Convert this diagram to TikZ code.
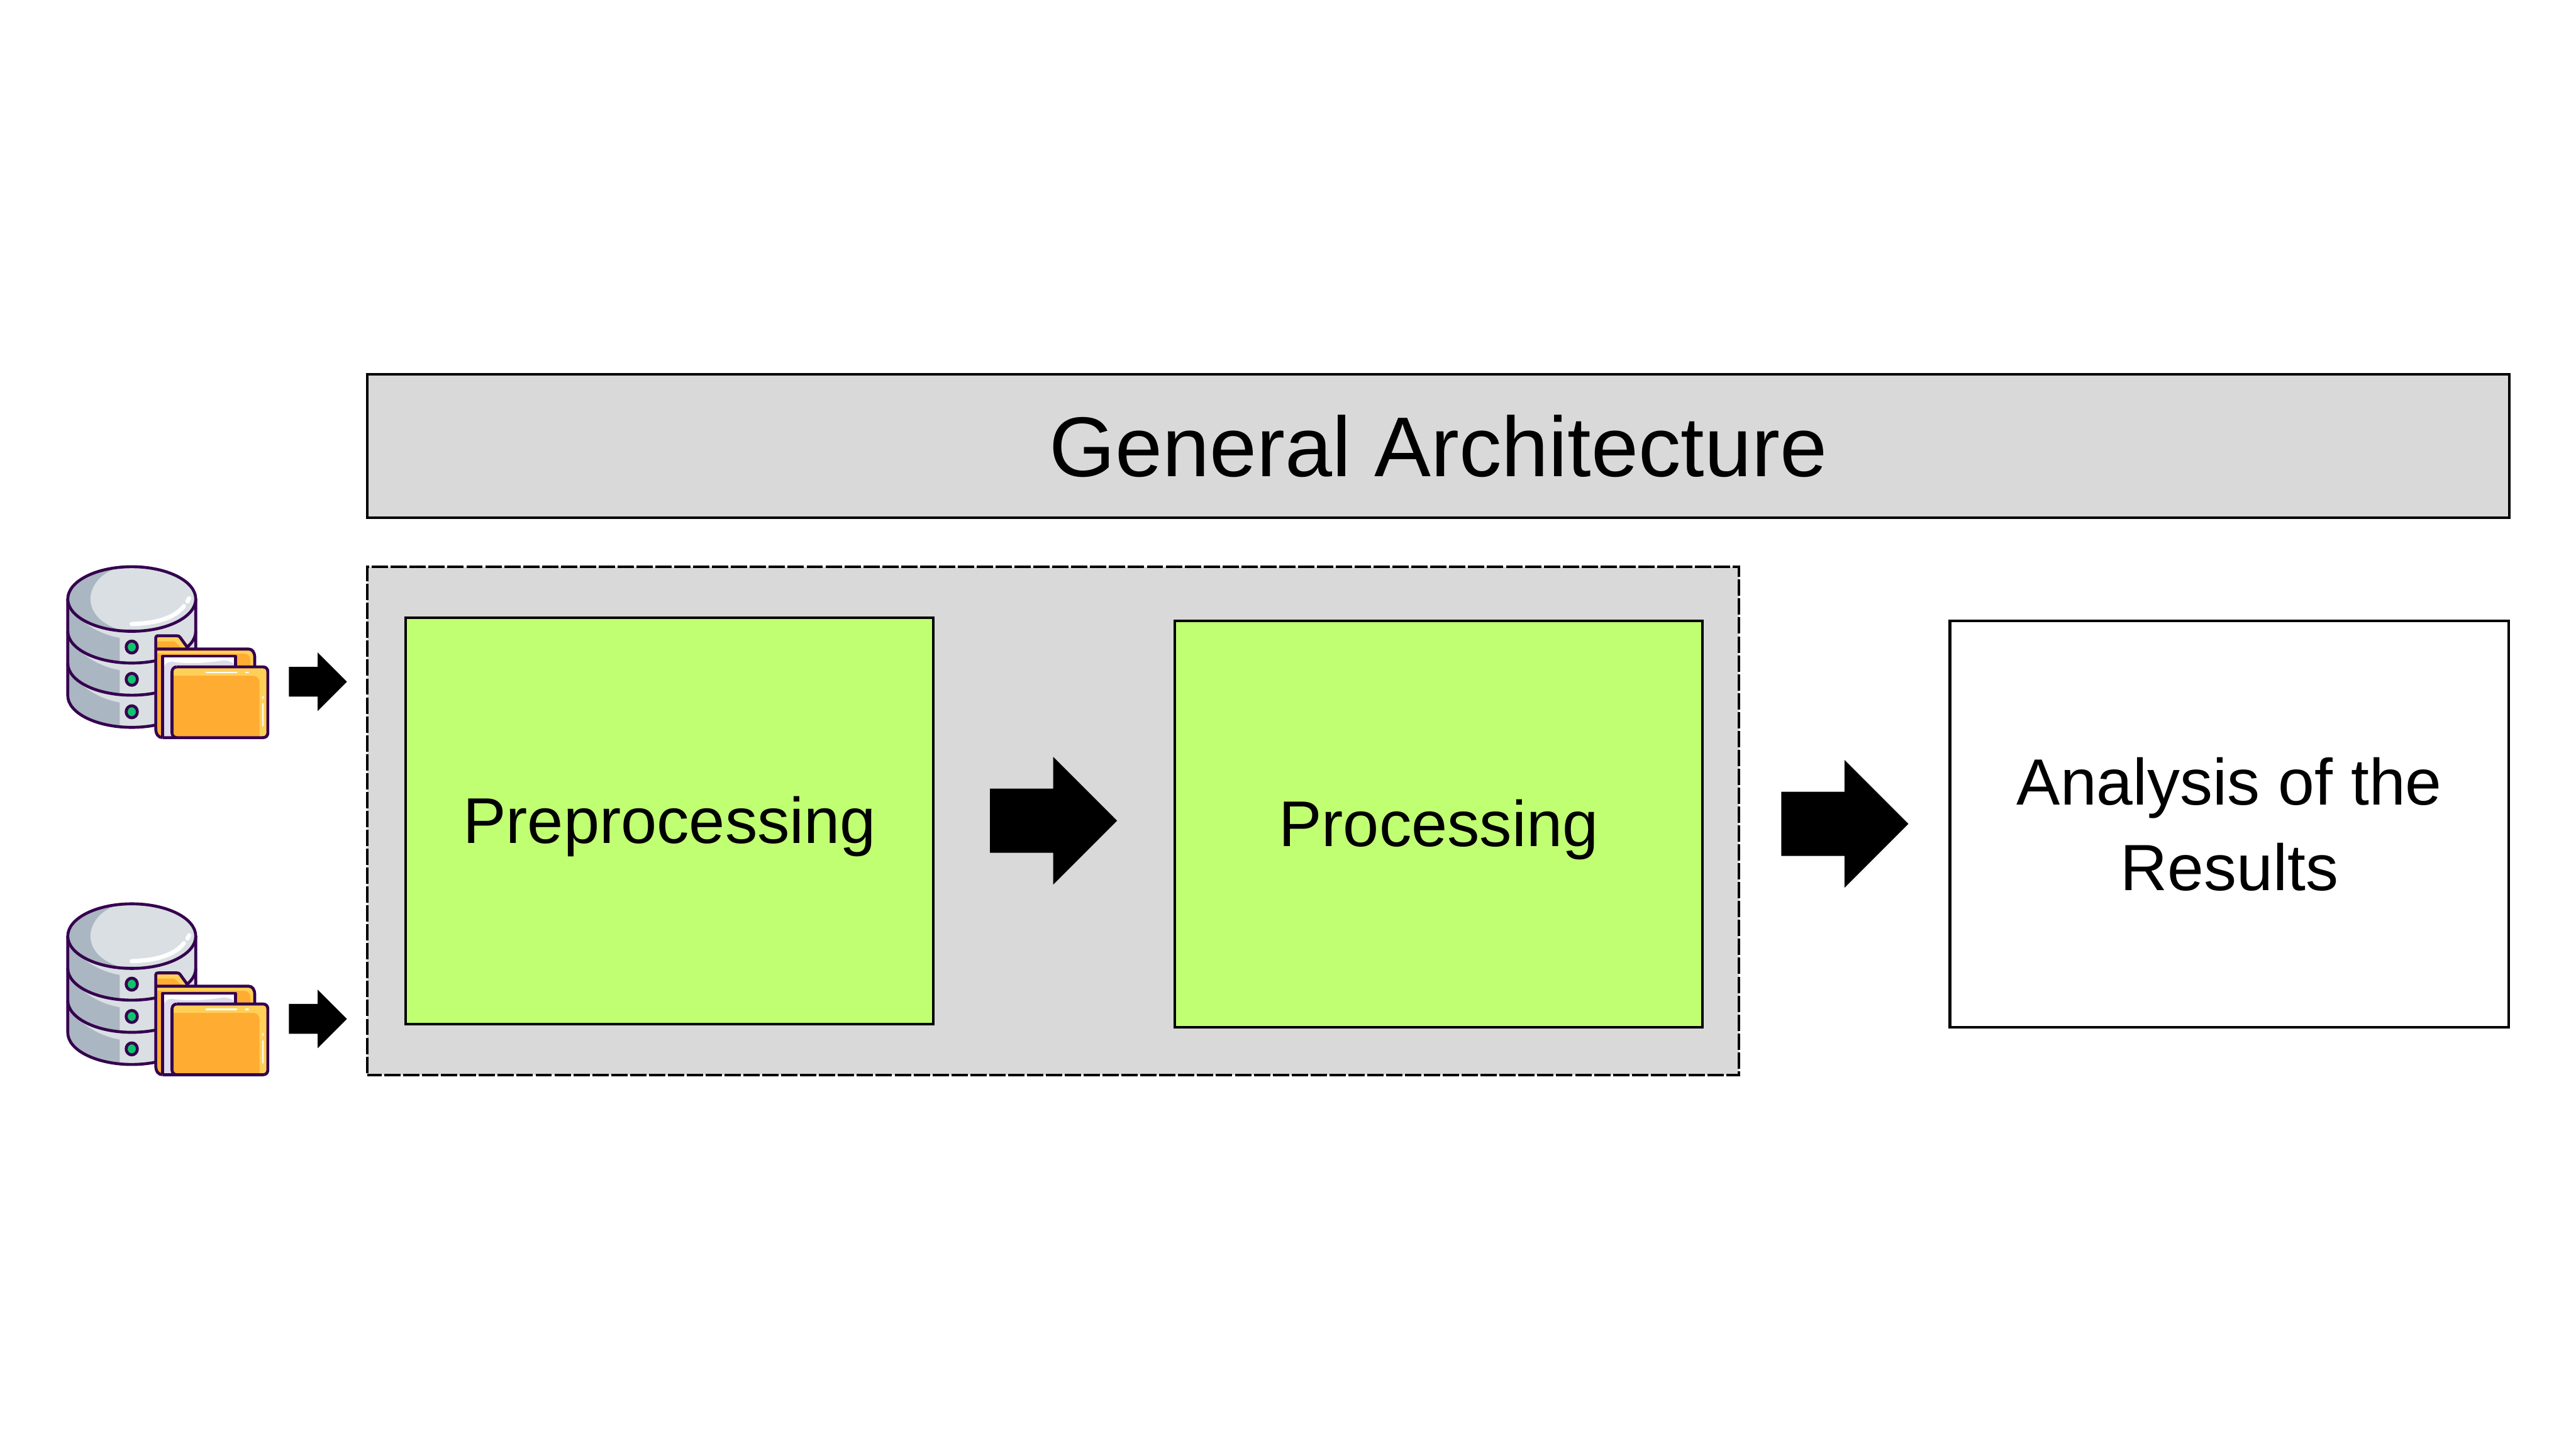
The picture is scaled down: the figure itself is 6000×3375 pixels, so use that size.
\documentclass[tikz,border=0pt]{standalone}
\usepackage{fontspec}
\setmainfont{Liberation Sans}
\usetikzlibrary{shapes.arrows}
\definecolor{boxgrey}{HTML}{D9D9D9}
\definecolor{boxgreen}{HTML}{C1FF72}
\definecolor{ink}{HTML}{35004F}
\definecolor{dblight}{HTML}{D9DFE3}
\definecolor{dbdark}{HTML}{AAB6C1}
\definecolor{led}{HTML}{0FC46E}
\definecolor{foldA}{HTML}{FFAC33}
\definecolor{foldB}{HTML}{FFD058}
\definecolor{paperlav}{HTML}{DEDBEC}
\tikzset{
  panel/.style={rectangle,draw=black,line width=0.06cm,outer sep=0pt,inner sep=0pt,align=center},
  bigarrow/.style={single arrow,fill=black,inner sep=0pt,outer sep=0pt,single arrow tip angle=90,anchor=tip,
    text height=1.48cm,text depth=0pt,minimum width=2.96cm,minimum height=2.96cm,single arrow head extend=0.74cm},
  smallarrow/.style={single arrow,fill=black,inner sep=0pt,outer sep=0pt,single arrow tip angle=90,anchor=tip,
    text height=0.68cm,text depth=0pt,minimum width=1.35cm,minimum height=1.35cm,single arrow head extend=0.335cm},
  iconline/.style={draw=ink,line width=0.068cm,line join=round},
  glint/.style={draw=white,line cap=round}
}
\newcommand{\dbicon}{%
  % body
  \path[fill=dblight] (78,315) -- (78,990) arc[start angle=180,end angle=0,x radius=307,y radius=223] -- (692,315) -- cycle;
  \foreach \dy in {0,226,452}{
    \path[fill=dbdark,shift={(0,\dy)}] (85,380) -- (150,470) .. controls (210,540) and (270,572) .. (327,587) -- (327,752)
      .. controls (190,735) and (85,650) .. (85,540) -- cycle;
  }
  \draw[iconline] (78,315) -- (78,990) arc[start angle=180,end angle=0,x radius=307,y radius=223] -- (692,315);
  \draw[iconline] (78,540) arc[start angle=180,end angle=0,x radius=307,y radius=223];
  \draw[iconline] (78,765) arc[start angle=180,end angle=0,x radius=307,y radius=223];
  % top
  \path[fill=dbdark] (385,315) ellipse[x radius=307,y radius=226];
  \begin{scope}
    \clip (385,315) ellipse[x radius=307,y radius=226];
    \path[fill=dblight] (320,95) .. controls (240,130) and (187,220) .. (187,315)
      .. controls (187,410) and (240,490) .. (320,525) -- (700,540) -- (700,90) -- cycle;
  \end{scope}
  \draw[iconline] (385,315) ellipse[x radius=307,y radius=226];
  \draw[glint,line width=0.1cm] (385,490) .. controls (500,485) and (590,450) .. (635,365);
  \draw[glint,line width=0.1cm] (652,332) -- (660,310);
  % lights
  \foreach \ly in {651,877,1104}{
    \path[fill=led,iconline] (385,\ly) ellipse[x radius=27,y radius=42];
  }
  % folder tab
  \path[fill=foldB] (500,660) -- (500,585) .. controls (500,575) and (505,572) .. (515,572) -- (600,572)
    .. controls (610,572) and (612,575) .. (617,583) -- (655,660) -- cycle;
  \path[fill=foldA] (505,612) -- (590,612) -- (625,660) -- (505,660) -- cycle;
  \draw[iconline] (500,660) -- (500,585) .. controls (500,575) and (505,572) .. (515,572) -- (600,572)
    .. controls (610,572) and (612,575) .. (617,583) -- (655,660);
  % back panel
  \path[fill=foldA] (500,665) -- (945,665) .. controls (965,665) and (975,690) .. (975,725) -- (975,1285) -- (530,1285)
    .. controls (512,1285) and (500,1260) .. (500,1220) -- cycle;
  \path[fill=foldB] (505,678) -- (945,678) .. controls (960,680) and (970,700) .. (970,730) -- (970,800) -- (955,800) -- (955,750)
    .. controls (955,720) and (945,697) .. (925,697) -- (505,697) -- cycle;
  \draw[iconline] (533,1285) .. controls (512,1285) and (500,1260) .. (500,1220) -- (500,665) -- (945,665)
    .. controls (965,665) and (975,690) .. (975,725) -- (975,800);
  % paper
  \path[fill=white] (533,715) rectangle (882,1285);
  \path[fill=paperlav] (540,1280) -- (540,790) .. controls (545,765) and (560,752) .. (585,755)
    .. controls (650,770) and (740,765) .. (820,745) .. controls (845,742) and (865,755) .. (875,770) -- (875,1280) -- cycle;
  \draw[iconline] (533,1285) -- (533,715) -- (882,715) -- (882,800);
  % front panel
  \path[fill=foldA] (600,790) -- (1015,790) .. controls (1030,790) and (1038,805) .. (1038,825) -- (1038,1250)
    .. controls (1038,1270) and (1030,1285) .. (1015,1285) -- (600,1285)
    .. controls (588,1285) and (578,1270) .. (578,1250) -- (578,825) .. controls (578,805) and (588,790) .. (600,790) -- cycle;
  \path[fill=foldB] (585,852) -- (585,825) .. controls (585,810) and (592,800) .. (602,800) -- (1012,800)
    .. controls (1024,800) and (1031,812) .. (1031,828) -- (1031,1250) .. controls (1031,1262) and (1025,1275) .. (1015,1276) -- (998,1276)
    -- (998,895) .. controls (998,870) and (985,852) .. (968,852) -- cycle;
  \draw[iconline] (600,790) -- (1015,790) .. controls (1030,790) and (1038,805) .. (1038,825) -- (1038,1250)
    .. controls (1038,1270) and (1030,1285) .. (1015,1285) -- (533,1285);
  \draw[iconline] (600,1285) .. controls (588,1285) and (578,1270) .. (578,1250) -- (578,825) .. controls (578,805) and (588,790) .. (600,790);
  \draw[glint,line width=0.035cm] (742,828) -- (888,828);
  \draw[glint,line width=0.035cm] (932,828) -- (944,828);
  \draw[glint,line width=0.035cm] (1014,1048) -- (1014,1202);
  \draw[glint,line width=0.035cm] (1014,997) -- (1014,1010);
}
\begin{document}
\begin{tikzpicture}[x=0.01cm,y=-0.01cm]
  \useasboundingbox (0,0) rectangle (6000,3375);
  \node[panel,fill=boxgrey,minimum width=49.86cm,minimum height=3.33cm,font=\fontsize{56.2}{60}\selectfont] (title) at (3350,1038.5) {General Architecture};
  \node[panel,fill=boxgrey,dash pattern=on 0.38cm off 0.06cm,dash phase=0.05cm,minimum width=31.92cm,minimum height=11.83cm] (group) at (2453,1911.5) {};
  \node[panel,fill=boxgreen,minimum width=12.29cm,minimum height=9.45cm] (prep) at (1559.5,1911.5) {};
  \node[panel,fill=boxgreen,minimum width=12.29cm,minimum height=9.46cm] (proc) at (3350.5,1919) {};
  \node[font=\fontsize{42.8}{56}\selectfont,inner sep=0pt,anchor=base] (preplabel) at (1559.5,1963) {Preprocessing};
  \node[font=\fontsize{42.8}{56}\selectfont,inner sep=0pt,anchor=base] (proclabel) at (3350.5,1970.5) {Processing};
  \node[panel,fill=white,minimum width=13.01cm,minimum height=9.46cm,font=\fontsize{43.3}{56.6}\selectfont] (results) at (5192.5,1919) {Analysis of the\\Results};
  \node[bigarrow] (a1) at (2602,1911) {};
  \node[bigarrow] (a2) at (4445,1918.5) {};
  \node[smallarrow] (s1) at (808,1587.5) {};
  \node[smallarrow] (s2) at (808,2372.5) {};
  \begin{scope}[shift={(120,1290)},x=0.004847cm,y=-0.003333cm]
    \dbicon
  \end{scope}
  \begin{scope}[shift={(120,2075)},x=0.004847cm,y=-0.003333cm]
    \dbicon
  \end{scope}
\end{tikzpicture}
\end{document}
